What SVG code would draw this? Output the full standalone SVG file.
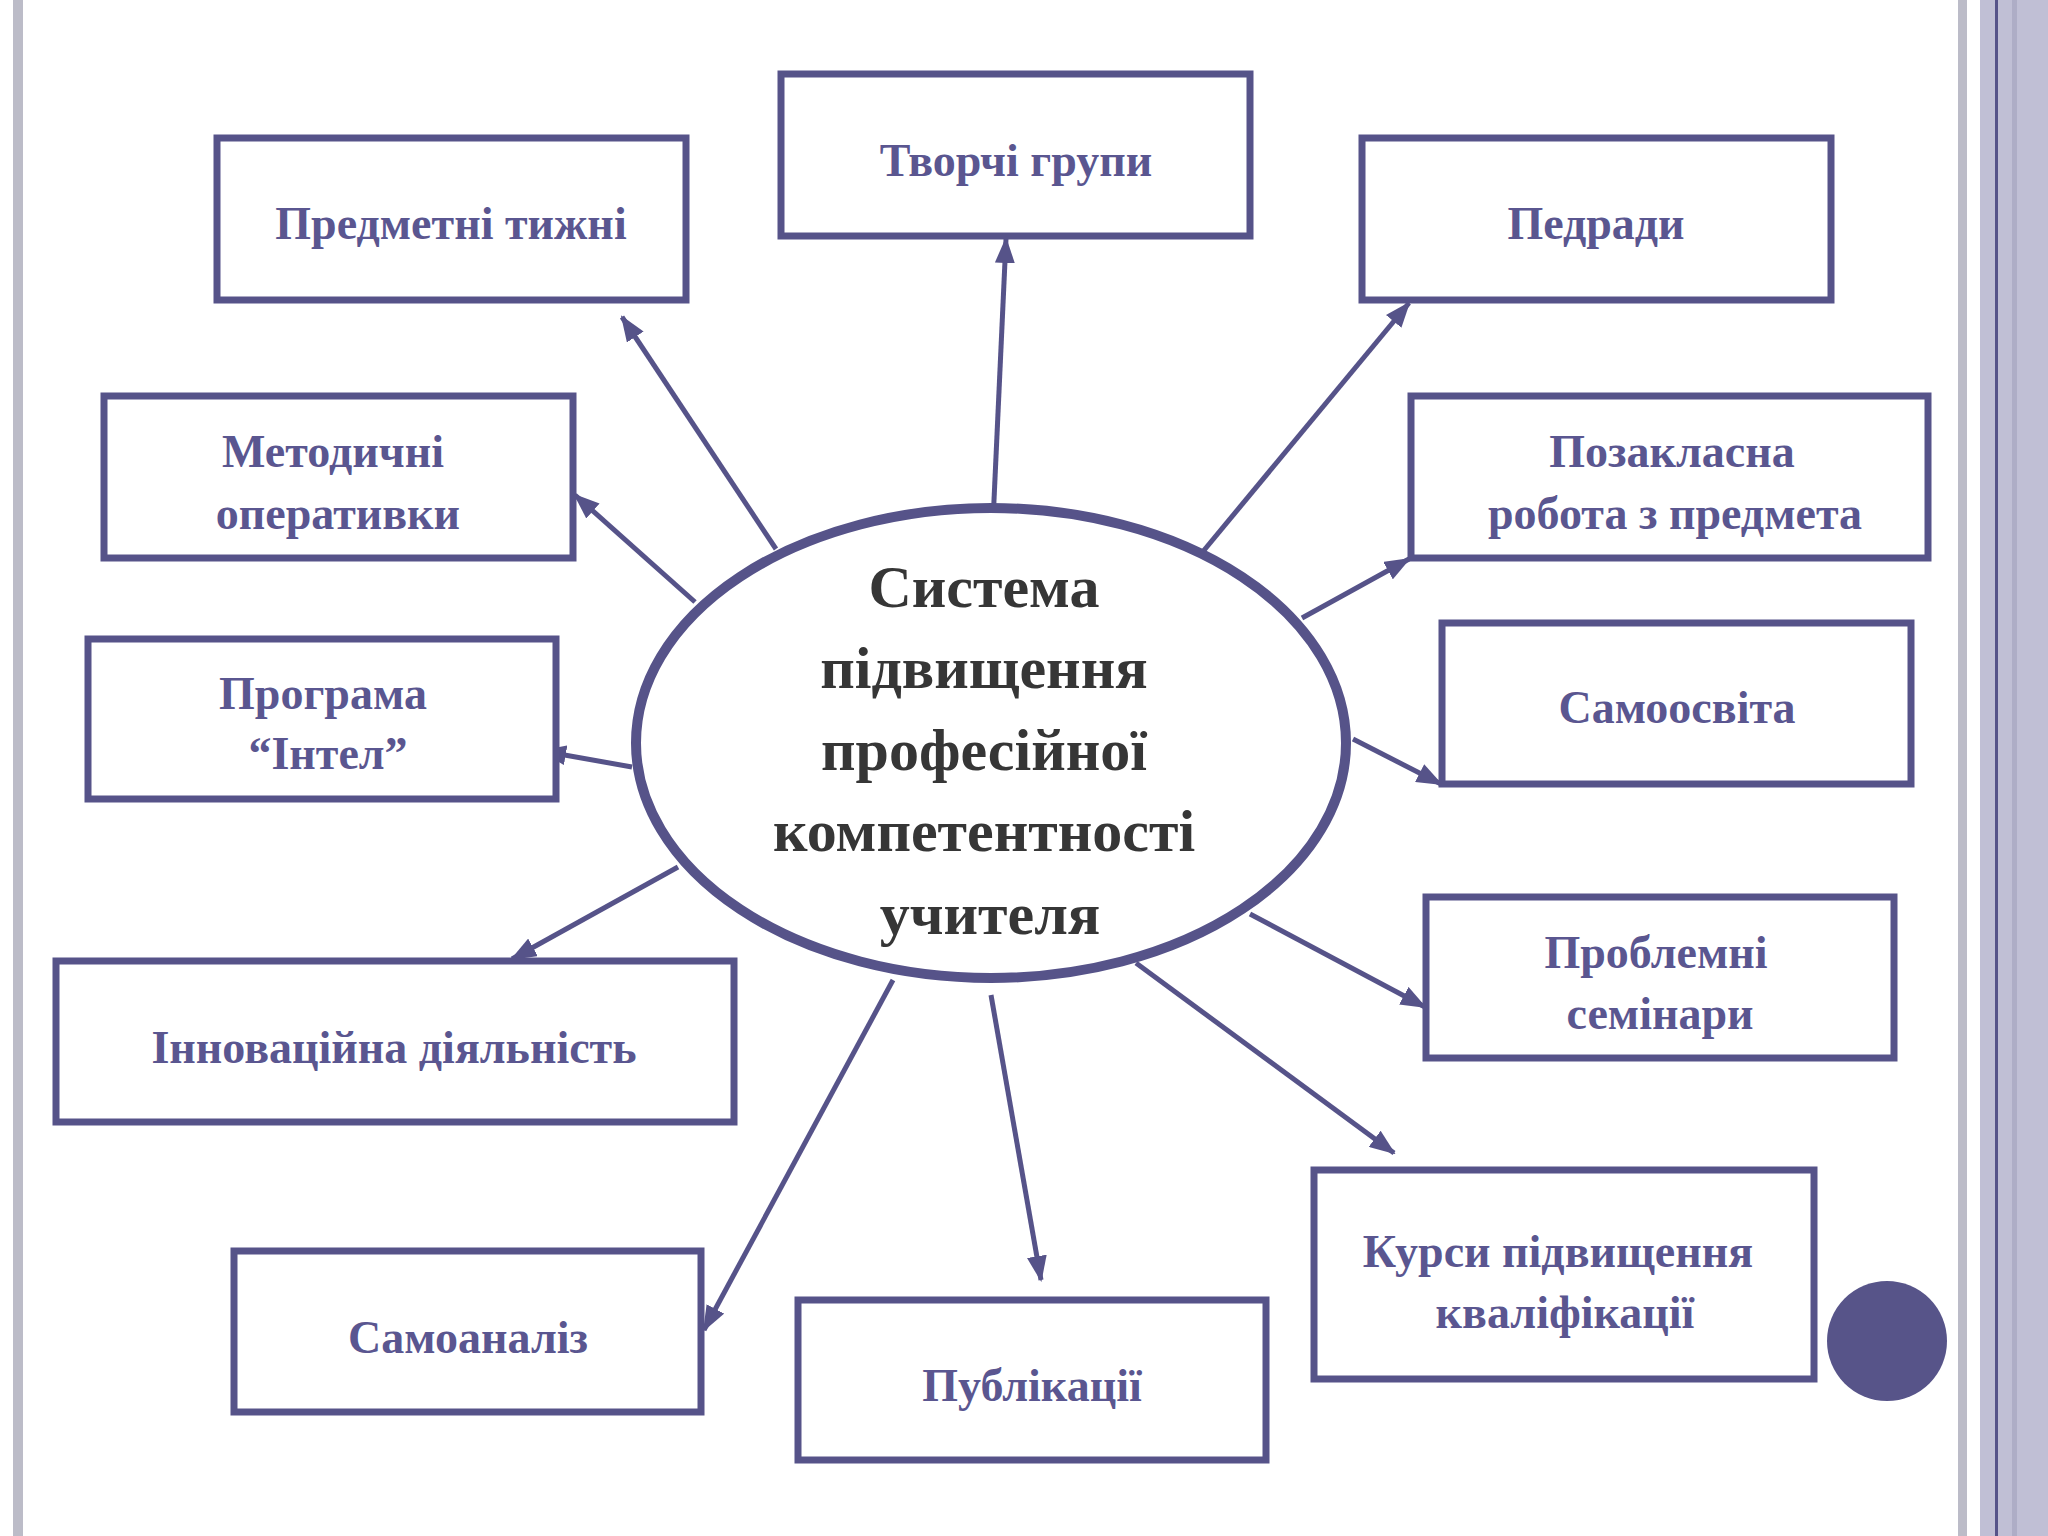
<svg xmlns="http://www.w3.org/2000/svg" width="2048" height="1536" viewBox="0 0 2048 1536">
<style>
.box{fill:#fff;stroke:#565389;stroke-width:7}
.t{font-family:"Liberation Serif","DejaVu Serif",serif;font-weight:bold;font-size:46px;fill:#5a5690;text-anchor:middle}
.c{font-family:"Liberation Serif","DejaVu Serif",serif;font-weight:bold;font-size:60px;fill:#363636;text-anchor:middle}
.a{stroke:#565389;stroke-width:5;fill:none;marker-end:url(#ah)}
</style>
<defs>
<marker id="ah" markerUnits="userSpaceOnUse" markerWidth="26" markerHeight="20" refX="24" refY="10" orient="auto">
<path d="M0,0 L26,10 L0,20 Z" fill="#565389"/>
</marker>
</defs>
<rect width="2048" height="1536" fill="#fff"/>
<rect x="13" y="0" width="10" height="1536" fill="#bcbcc8"/>
<rect x="1958" y="0" width="9" height="1536" fill="#bcbcc8"/>
<rect x="1980" y="0" width="68" height="1536" fill="#c0bfd5"/>
<rect x="1995" y="0" width="3" height="1536" fill="#565389"/>
<rect x="2012" y="0" width="5" height="1536" fill="#aeadc6"/>
<g id="connectors">
<line class="a" x1="993" y1="522" x2="1006" y2="239"/>
<line class="a" x1="776" y1="549" x2="622" y2="317"/>
<line class="a" x1="1186" y1="572" x2="1409" y2="303"/>
<line class="a" x1="695" y1="602" x2="575" y2="495"/>
<line class="a" x1="1302" y1="618" x2="1409" y2="559"/>
<line class="a" x1="632" y1="767" x2="542" y2="751"/>
<line class="a" x1="1353" y1="739" x2="1441" y2="784"/>
<line class="a" x1="678" y1="867" x2="512" y2="959"/>
<line class="a" x1="1250" y1="914" x2="1425" y2="1007"/>
<line class="a" x1="1136" y1="963" x2="1394" y2="1153"/>
<line class="a" x1="893" y1="980" x2="704" y2="1330"/>
<line class="a" x1="991" y1="995" x2="1041" y2="1280"/>
</g>
<g id="center">
<ellipse cx="991" cy="743" rx="355" ry="235" fill="#fff" stroke="#565389" stroke-width="10"/>
<text class="c" x="984" y="607">Система</text>
<text class="c" x="984" y="688">підвищення</text>
<text class="c" x="984" y="770">професійної</text>
<text class="c" x="984" y="851">компетентності</text>
<text class="c" x="990" y="934">учителя</text>
</g>
<g id="n1"><rect class="box" x="781" y="74" width="469" height="162"/><text class="t" x="1016" y="176">Творчі групи</text></g>
<g id="n2"><rect class="box" x="217" y="138" width="469" height="162"/><text class="t" x="451" y="239">Предметні тижні</text></g>
<g id="n3"><rect class="box" x="1362" y="138" width="469" height="162"/><text class="t" x="1596" y="239">Педради</text></g>
<g id="n4"><rect class="box" x="104" y="396" width="469" height="162"/><text class="t" x="333" y="467">Методичні</text><text class="t" x="338" y="529">оперативки</text></g>
<g id="n5"><rect class="box" x="1411" y="396" width="517" height="162"/><text class="t" x="1672" y="467">Позакласна</text><text class="t" x="1675" y="529">робота з предмета</text></g>
<g id="n6"><rect class="box" x="88" y="639" width="468" height="160"/><text class="t" x="323" y="709">Програма</text><text class="t" x="328" y="769">“Інтел”</text></g>
<g id="n7"><rect class="box" x="1442" y="623" width="469" height="161"/><text class="t" x="1677" y="723">Самоосвіта</text></g>
<g id="n8"><rect class="box" x="56" y="961" width="678" height="161"/><text class="t" x="394" y="1063">Інноваційна діяльність</text></g>
<g id="n9"><rect class="box" x="1426" y="897" width="468" height="161"/><text class="t" x="1656" y="968">Проблемні</text><text class="t" x="1660" y="1029">семінари</text></g>
<g id="n10"><rect class="box" x="1314" y="1170" width="500" height="209"/><text class="t" x="1558" y="1267">Курси підвищення</text><text class="t" x="1565" y="1328">кваліфікації</text></g>
<g id="n11"><rect class="box" x="234" y="1251" width="467" height="161"/><text class="t" x="468" y="1353">Самоаналіз</text></g>
<g id="n12"><rect class="box" x="798" y="1300" width="468" height="160"/><text class="t" x="1032" y="1401">Публікації</text></g>
<circle cx="1887" cy="1341" r="60" fill="#575489"/>
</svg>
